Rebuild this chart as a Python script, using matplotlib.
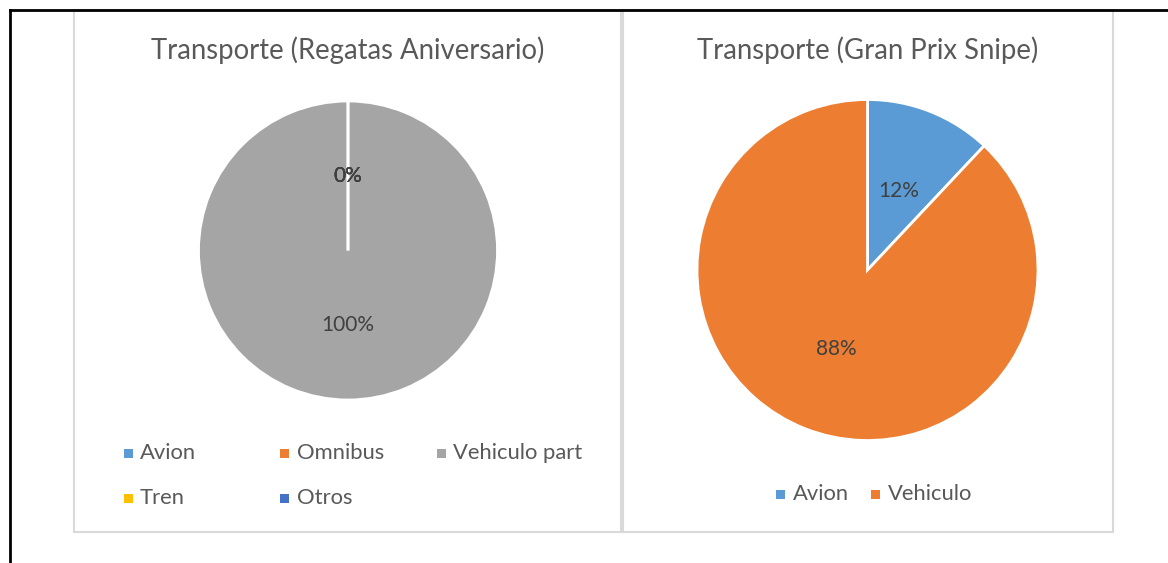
import matplotlib
matplotlib.use('Agg')
import matplotlib.pyplot as plt
from matplotlib.patches import Rectangle
from matplotlib.lines import Line2D

W, H = 1168, 563

# Regatas Aniversario
reg_labels = ['Avion', 'Omnibus', 'Vehiculo part', 'Tren', 'Otros']
reg_values = [0, 0, 100, 0, 0]
reg_colors = ['#5B9BD5', '#ED7D31', '#A5A5A5', '#FFC000', '#4472C4']

# Gran Prix Snipe
gp_labels = ['Avion', 'Vehiculo']
gp_values = [12, 88]
gp_colors = ['#5B9BD5', '#ED7D31']

plt.rcParams['font.family'] = ['Lato', 'DejaVu Sans']
TXT = '#595959'

fig = plt.figure(figsize=(W / 100, H / 100), dpi=100)


def fx(x):
    return x / W


def fy(y):
    return 1 - y / H


def draw_pie(cx, cy, r, values, colors):
    ax = fig.add_axes([fx(cx - r), fy(cy + r), 2 * r / W, 2 * r / H])
    wedges, _, _ = ax.pie(values, colors=colors, startangle=90,
                          counterclock=False, autopct='%.0f%%',
                          pctdistance=0.5,
                          wedgeprops=dict(edgecolor='white', linewidth=2),
                          textprops=dict(color='#404040', fontsize=15))
    for w in wedges:
        w.set_clip_on(False)
    ax.set_xlim(-1, 1)
    ax.set_ylim(-1, 1)
    ax.set_aspect('equal')
    ax.axis('off')
    return ax


def draw_legend(items, colors, xs, ys):
    for lab, col, x, y in zip(items, colors, xs, ys):
        fig.add_artist(Rectangle((fx(x - 4.5), fy(y + 4.5)), 9 / W, 9 / H,
                                 transform=fig.transFigure, color=col, lw=0))
        fig.text(fx(x + 12), fy(y), lab, color=TXT, fontsize=15.8,
                 va='center', ha='left')


# chart frames
for x0, x1 in [(74, 621), (623, 1113)]:
    fig.add_artist(Rectangle((fx(x0), fy(532)), (x1 - x0) / W, 522 / H,
                             transform=fig.transFigure, fill=False,
                             ec='#D9D9D9', lw=1.5))

# black page lines
fig.add_artist(Line2D([fx(10), 1], [fy(10), fy(10)], color='black', lw=2,
                      transform=fig.transFigure))
fig.add_artist(Line2D([fx(10), fx(10)], [fy(10), 0], color='black', lw=2,
                      transform=fig.transFigure))

draw_pie(348, 250.5, 149.5, reg_values, reg_colors)
draw_pie(867.5, 270, 170.5, gp_values, gp_colors)

fig.text(fx(348), fy(50), 'Transporte (Regatas Aniversario)', color=TXT,
         fontsize=19.8, ha='center', va='center')
fig.text(fx(868), fy(50), 'Transporte (Gran Prix Snipe)', color=TXT,
         fontsize=19.8, ha='center', va='center')

draw_legend(reg_labels, reg_colors,
            [128, 284.5, 441, 128, 284.5], [453, 453, 453, 498, 498])
draw_legend(gp_labels, gp_colors, [780.5, 875.5], [494, 494])

fig.savefig('out.png', dpi=100, facecolor='white')
